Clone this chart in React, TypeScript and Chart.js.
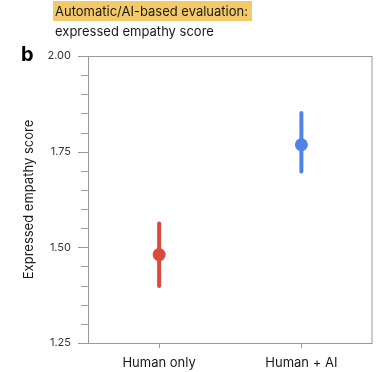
import React, { useEffect, useRef } from "react";
import { Chart, registerables } from "chart.js";

Chart.register(...registerables);

const groups = ["Human only", "Human + AI"];
const means = [1.481, 1.768];
const lowerCI = [1.399, 1.698];
const upperCI = [1.562, 1.851];
const groupColors = ["#db4b3d", "#4f83e8"];
const yTickLabels = ["1.25", "1.50", "1.75", "2.00"];
const yTitle = "Expressed empathy score";

const FONT = "Inter, 'Open Sans', sans-serif";
const AXIS_GREY = "#9a9a9a";

const decorPlugin = {
  id: "decor",
  beforeDatasetsDraw(chart: any) {
    const { ctx, chartArea, scales } = chart;
    const y = scales.y;
    const x = scales.x;
    ctx.save();
    // frame around the plotting area
    ctx.strokeStyle = AXIS_GREY;
    ctx.lineWidth = 1;
    ctx.strokeRect(chartArea.left + 0.5, chartArea.top + 0.5, chartArea.right - chartArea.left - 1, chartArea.bottom - chartArea.top);
    // y ticks: long at labelled values, short in between
    y.ticks.forEach((t: any) => {
      const py = Math.round(y.getPixelForValue(t.value)) + 0.5;
      const major = yTickLabels.includes(t.value.toFixed(2));
      ctx.beginPath();
      ctx.moveTo(chartArea.left - (major ? 10 : 7), py);
      ctx.lineTo(chartArea.left, py);
      ctx.stroke();
    });
    // x ticks below the axis
    groups.forEach((_, i) => {
      const px = Math.round(x.getPixelForValue(i)) + 0.5;
      ctx.beginPath();
      ctx.moveTo(px, chartArea.bottom);
      ctx.lineTo(px, chartArea.bottom + 5);
      ctx.stroke();
    });
    // confidence interval whiskers
    ctx.lineCap = "round";
    ctx.lineWidth = 4;
    groups.forEach((_, i) => {
      const px = x.getPixelForValue(i);
      ctx.strokeStyle = groupColors[i];
      ctx.beginPath();
      ctx.moveTo(px, y.getPixelForValue(lowerCI[i]));
      ctx.lineTo(px, y.getPixelForValue(upperCI[i]));
      ctx.stroke();
    });
    ctx.restore();
  },
  afterDraw(chart: any) {
    const { ctx, chartArea } = chart;
    ctx.save();
    // highlighted heading
    ctx.font = `13px ${FONT}`;
    ctx.textBaseline = "middle";
    const head = "Automatic/AI-based evaluation:";
    const w = ctx.measureText(head).width;
    ctx.fillStyle = "#f3c96a";
    ctx.fillRect(53, 1, w + 6, 20);
    ctx.fillStyle = "#1a1a1a";
    ctx.fillText(head, 55, 12);
    ctx.fillText("expressed empathy score", 55, 32);
    ctx.font = `bold 20px ${FONT}`;
    ctx.fillStyle = "#000";
    ctx.fillText("b", 21, 55);
    // y axis title
    ctx.font = `13px ${FONT}`;
    ctx.fillStyle = "#1a1a1a";
    ctx.textAlign = "center";
    ctx.translate(29, (chartArea.top + chartArea.bottom) / 2);
    ctx.rotate(-Math.PI / 2);
    ctx.fillText(yTitle, 0, 0);
    ctx.restore();
  },
};

export default function App() {
  const ref = useRef<HTMLCanvasElement>(null);
  useEffect(() => {
    document.body.style.margin = "0";
    const chart = new Chart(ref.current!, {
      type: "line",
      data: {
        labels: groups,
        datasets: [
          {
            data: means,
            showLine: false,
            pointRadius: 6.5,
            pointHoverRadius: 6.5,
            pointBackgroundColor: groupColors,
            pointBorderColor: groupColors,
            pointBorderWidth: 0,
          },
        ],
      },
      options: {
        animation: false,
        responsive: false,
        events: [],
        layout: { padding: { top: 56, right: 4, left: 0, bottom: 0 } },
        plugins: { legend: { display: false }, tooltip: { enabled: false }, title: { display: false } },
        scales: {
          x: {
            type: "category",
            offset: true,
            grid: { display: false, drawTicks: false },
            border: { display: false },
            afterFit(scale: any) {
              scale.height = 29;
            },
            ticks: {
              padding: 12,
              color: "#1a1a1a",
              font: { family: FONT, size: 13 },
            },
          },
          y: {
            min: 1.25,
            max: 2.0,
            grid: { display: false, drawTicks: false },
            border: { display: false },
            afterFit(scale: any) {
              scale.width = 88;
            },
            ticks: {
              stepSize: 0.05,
              autoSkip: false,
              padding: 17,
              color: "#333",
              font: { family: FONT, size: 11 },
              callback: (v: any) => {
                const s = Number(v).toFixed(2);
                return yTickLabels.includes(s) ? s : "";
              },
            },
          },
        },
      },
      plugins: [decorPlugin],
    });
    return () => chart.destroy();
  }, []);
  return <canvas ref={ref} width={379} height={372} style={{ display: "block" }} />;
}
